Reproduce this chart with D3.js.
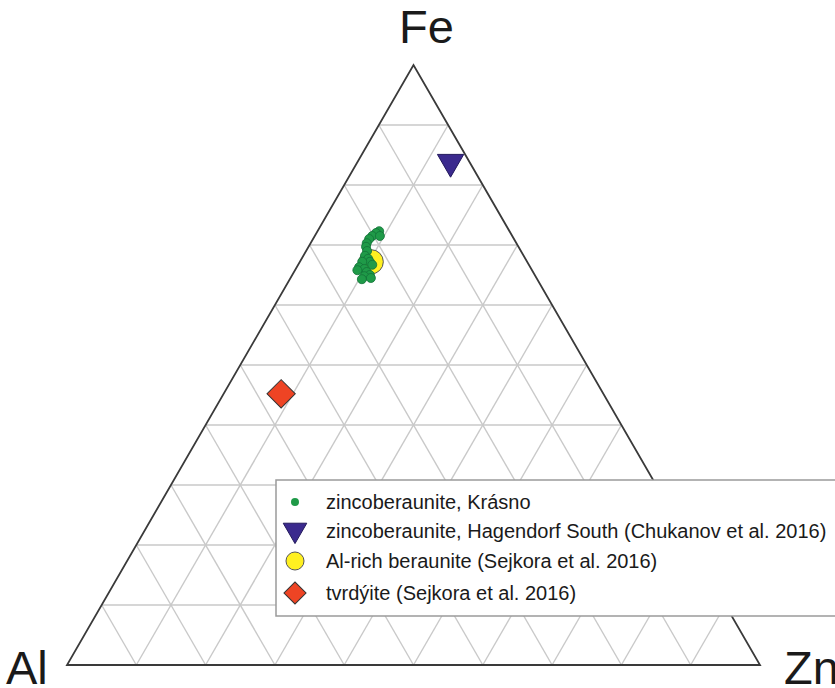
<!DOCTYPE html>
<html>
<head>
<meta charset="utf-8">
<script src="https://cdn.jsdelivr.net/npm/d3@7"></script>
<style>
  body { margin: 0; background: #fff; }
  text { font-family: "Liberation Sans", Arial, sans-serif; }
</style>
</head>
<body>
<script>

var Width = 835;     // of SVG
var Height = 688;    // of SVG

// ternary corners (pixels)
var Left = 67, Right = 760, Base = 665, Top = 65;

// axis labels
var corners = ["Fe", "Al", "Zn"];
var gridSteps = d3.range(1, 10).map(function(d) { return d / 10; });

// zincoberaunite, Krásno: Fe and Zn in %, Al is the rest
var krasnoFe = [72.3, 72.0, 71.5, 71.0, 70.3, 69.7, 69.0, 68.2, 67.7, 67.2, 66.7, 67.2, 66.3, 66.0, 65.5, 65.0, 64.8, 71.5, 65.8, 64.3, 64.5];
var krasnoZn = [8.9, 8.6, 8.3, 8.1, 8.1, 8.3, 8.8, 8.9, 9.6, 10.1, 10.7, 9.0, 9.0, 9.9, 10.5, 11.2, 10.5, 9.4, 9.0, 10.4, 11.6];

// other sources, one point each
var otherNames = ["hagendorf", "alrich", "tvrdyite"];
var otherFe = [83.5, 67.2, 45.2];
var otherZn = [13.6, 10.3, 8.3];

var legendLabels = [
  "zincoberaunite, Krásno",
  "zincoberaunite, Hagendorf South (Chukanov et al. 2016)",
  "Al-rich beraunite (Sejkora et al. 2016)",
  "tvrdýite (Sejkora et al. 2016)"
];


function main () {

  var svg = d3.select("body")
    .append("svg")
    .attr("width", Width)
    .attr("height", Height);

  // Fe fraction -> y, (Zn + Fe/2) -> x
  var yScale = d3.scaleLinear().domain([0, 1]).range([Base, Top]);
  var xScale = d3.scaleLinear().domain([0, 1]).range([Left, Right]);

  function px(fe, zn) { return xScale(zn + fe / 2); }
  function py(fe) { return yScale(fe); }

  drawGrid(svg, px, py);
  drawPoints(svg, px, py);
  drawLegend(svg);
  drawLabels(svg);
}

function drawGrid (svg, px, py) {
  var g = svg.append("g")
    .attr("fill", "none")
    .attr("stroke", "#c9c9c9")
    .attr("stroke-width", 1.4);

  // constant Fe
  g.selectAll("line.fe")
    .data(gridSteps)
    .enter()
    .append("line")
    .attr("x1", function(d) { return px(d, 0); })
    .attr("y1", function(d) { return py(d); })
    .attr("x2", function(d) { return px(d, 1 - d); })
    .attr("y2", function(d) { return py(d); });

  // constant Zn
  g.selectAll("line.zn")
    .data(gridSteps)
    .enter()
    .append("line")
    .attr("x1", function(d) { return px(0, d); })
    .attr("y1", py(0))
    .attr("x2", function(d) { return px(1 - d, d); })
    .attr("y2", function(d) { return py(1 - d); });

  // constant Al
  g.selectAll("line.al")
    .data(gridSteps)
    .enter()
    .append("line")
    .attr("x1", function(d) { return px(0, 1 - d); })
    .attr("y1", py(0))
    .attr("x2", function(d) { return px(1 - d, 0); })
    .attr("y2", function(d) { return py(1 - d); });

  // outline
  svg.append("path")
    .attr("d", "M" + px(0, 0) + "," + py(0) +
               "L" + px(0, 1) + "," + py(0) +
               "L" + px(1, 0) + "," + py(1) + "Z")
    .attr("fill", "none")
    .attr("stroke", "#3a3a3a")
    .attr("stroke-width", 1.8)
    .attr("stroke-linejoin", "miter");
}

var markers = {
  krasno:    { type: d3.symbolCircle,   size: 64,  fill: "#1f9a48", stroke: "#137238" },
  hagendorf: { type: d3.symbolTriangle, size: 300, fill: "#3b2a8e", stroke: "#22195c", flip: true },
  alrich:    { type: d3.symbolCircle,   size: 460, fill: "#fff021", stroke: "#555" },
  tvrdyite:  { type: d3.symbolSquare,   size: 400, fill: "#ee4424", stroke: "#333", rotate: 45 }
};
var legendSizes = { krasno: 50, hagendorf: 240, alrich: 255, tvrdyite: 245 };

function symbolPath (key, size) {
  return d3.symbol().type(markers[key].type).size(size)();
}

function transformFor (key, x, y) {
  var m = markers[key];
  var t = "translate(" + x + "," + y + ")";
  if (m.flip) t += " rotate(180)";
  if (m.rotate) t += " rotate(" + m.rotate + ")";
  return t;
}

function drawPoints (svg, px, py) {

  var others = otherNames.map(function(n, i) { return { key: n, fe: otherFe[i] / 100, zn: otherZn[i] / 100 }; });

  svg.selectAll("path.other")
    .data(others)
    .enter()
    .append("path")
    .attr("class", "other")
    .attr("d", function(d) { return symbolPath(d.key, markers[d.key].size); })
    .attr("transform", function(d) { return transformFor(d.key, px(d.fe, d.zn), py(d.fe) + (markers[d.key].flip ? -2 : 0)); })
    .attr("fill", function(d) { return markers[d.key].fill; })
    .attr("stroke", function(d) { return markers[d.key].stroke; })
    .attr("stroke-width", 1);

  var krasno = krasnoFe.map(function(fe, i) { return { fe: fe / 100, zn: krasnoZn[i] / 100 }; });

  svg.selectAll("path.krasno")
    .data(krasno)
    .enter()
    .append("path")
    .attr("class", "krasno")
    .attr("d", symbolPath("krasno", markers.krasno.size))
    .attr("transform", function(d) { return transformFor("krasno", px(d.fe, d.zn), py(d.fe)); })
    .attr("fill", markers.krasno.fill)
    .attr("stroke", markers.krasno.stroke)
    .attr("stroke-width", 0.8);
}

function drawLegend (svg) {
  var keys = ["krasno", "hagendorf", "alrich", "tvrdyite"];
  var rowY = [502, 531, 561, 593];

  var g = svg.append("g");

  g.append("rect")
    .attr("x", 276)
    .attr("y", 480)
    .attr("width", 600)
    .attr("height", 136)
    .attr("fill", "#fff")
    .attr("stroke", "#9a9a9a")
    .attr("stroke-width", 1.5);

  g.selectAll("path.leg")
    .data(keys)
    .enter()
    .append("path")
    .attr("d", function(k) { return symbolPath(k, legendSizes[k]); })
    .attr("transform", function(k, i) { return transformFor(k, 295, rowY[i] + (markers[k].flip ? -1 : 0)); })
    .attr("fill", function(k) { return markers[k].fill; })
    .attr("stroke", function(k) { return markers[k].stroke; })
    .attr("stroke-width", function(k) { return k == "krasno" ? 0 : 1; });

  g.selectAll("text.leg")
    .data(legendLabels)
    .enter()
    .append("text")
    .attr("x", 326)
    .attr("y", function(d, i) { return rowY[i]; })
    .attr("dy", "0.35em")
    .attr("font-size", 20)
    .attr("fill", "#1a1a1a")
    .text(function(d) { return d; });
}

function drawLabels (svg) {
  var pos = [[399, 43], [6, 684], [784, 684]];
  svg.selectAll("text.corner")
    .data(corners)
    .enter()
    .append("text")
    .attr("x", function(d, i) { return pos[i][0]; })
    .attr("y", function(d, i) { return pos[i][1]; })
    .attr("font-size", 47)
    .attr("fill", "#1a1a1a")
    .text(function(d) { return d; });
}

main();
</script>
</body>
</html>
